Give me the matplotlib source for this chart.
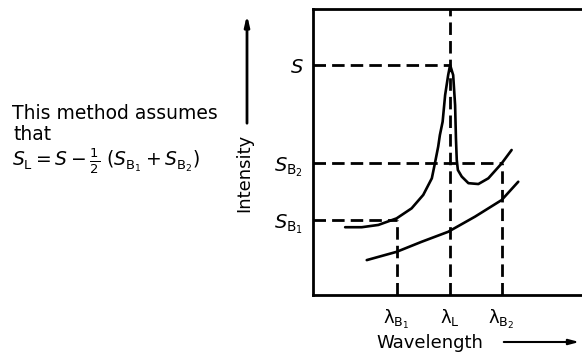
import numpy as np
import matplotlib
matplotlib.use("Agg")
import matplotlib.pyplot as plt

plt.rcParams['font.family'] = ['DejaVu Sans']
plt.rcParams['mathtext.fontset'] = 'dejavusans'

# wavelength positions (arbitrary units) and intensity levels
lam_b1 = 30.2
lam_l = 49.3
lam_b2 = 68.1
s_peak = 80.4
s_b2 = 46.0
s_b1 = 26.2

# measured spectrum (line + background)
upper_x = [11.6, 17.6, 23.6, 30.2, 35.6, 39.8, 42.9, 44.0, 45.2, 45.8, 46.8, 47.7, 48.8, 49.5,
           50.6, 51.3, 51.6, 51.9, 52.3, 53.7, 56.1, 59.7, 63.3, 68.1, 71.7]
upper_y = [23.7, 23.7, 24.5, 26.8, 30.3, 35.0, 40.8, 46.0, 51.9, 55.9, 60.6, 69.9, 76.9, 80.4,
           76.9, 66.4, 54.9, 47.2, 43.7, 41.4, 39.1, 38.8, 40.8, 46.0, 50.7]

# background curve
lower_x = [19.4, 30.2, 39.2, 48.8, 58.5, 68.1, 74.1]
lower_y = [12.2, 15.1, 18.6, 22.1, 27.4, 33.2, 39.6]

W, H = 582, 357
fig = plt.figure(figsize=(W / 100, H / 100), dpi=100)

def px(x, y):
    return x / W, 1 - y / H

ax = fig.add_axes([313 / W, 1 - 295 / H, (590 - 313) / W, (295 - 9) / H])
ax.set_xlim(0, 100)
ax.set_ylim(0, 100)
for side in ['left', 'bottom', 'top']:
    ax.spines[side].set_linewidth(2)
ax.spines['right'].set_visible(False)

ax.plot(upper_x, upper_y, color='black', lw=1.9, solid_joinstyle='round', solid_capstyle='round')
ax.plot(lower_x, lower_y, color='black', lw=1.9, solid_joinstyle='round', solid_capstyle='round')

dash = (0, (4.5, 2.2))
# horizontal guides
for lev, lam in [(s_peak, lam_l), (s_b2, lam_b2), (s_b1, lam_b1)]:
    ax.plot([0, lam], [lev, lev], color='black', lw=2, linestyle=dash)
# vertical guides
ax.plot([lam_l, lam_l], [0, 100], color='black', lw=2, linestyle=dash)
ax.plot([lam_b1, lam_b1], [0, s_b1], color='black', lw=2, linestyle=dash)
ax.plot([lam_b2, lam_b2], [0, s_b2], color='black', lw=2, linestyle=dash)

ax.set_yticks([s_peak, s_b2, s_b1])
ax.set_yticklabels([r'$S$', r'$S_{\mathrm{B}_2}$', r'$S_{\mathrm{B}_1}$'], fontsize=14)
ax.set_xticks([lam_b1, lam_l, lam_b2])
ax.set_xticklabels([r'λ$_{\mathrm{B}_1}$', r'λ$_{\mathrm{L}}$', r'λ$_{\mathrm{B}_2}$'], fontsize=13)
ax.tick_params(axis='both', length=0)
ax.tick_params(axis='y', pad=7)
ax.tick_params(axis='x', pad=9)

# axis captions with arrows
fig.text(*px(244, 173), 'Intensity', rotation=90, ha='center', va='center', fontsize=13)
fig.patches.append(matplotlib.patches.FancyArrowPatch(
    px(247, 126), px(247, 12), transform=fig.transFigure, color='black', lw=2,
    arrowstyle='-|>,head_length=6,head_width=1.4'))
fig.text(*px(430, 343), 'Wavelength', ha='center', va='center', fontsize=13)
fig.patches.append(matplotlib.patches.FancyArrowPatch(
    px(501, 342), px(582, 342), transform=fig.transFigure, color='black', lw=1.5,
    arrowstyle='-|>,head_length=6,head_width=1.6'))

# note on the left
fig.text(*px(12, 119), 'This method assumes', fontsize=13.5, va='baseline')
fig.text(*px(14, 140), 'that', fontsize=13.5, va='baseline')
fig.text(*px(12, 166), r'$S_{\mathrm{L}} = S - \frac{1}{2}\ (S_{\mathrm{B}_1} + S_{\mathrm{B}_2})$',
         fontsize=13.5, va='baseline')

fig.savefig('out.png', dpi=100)
